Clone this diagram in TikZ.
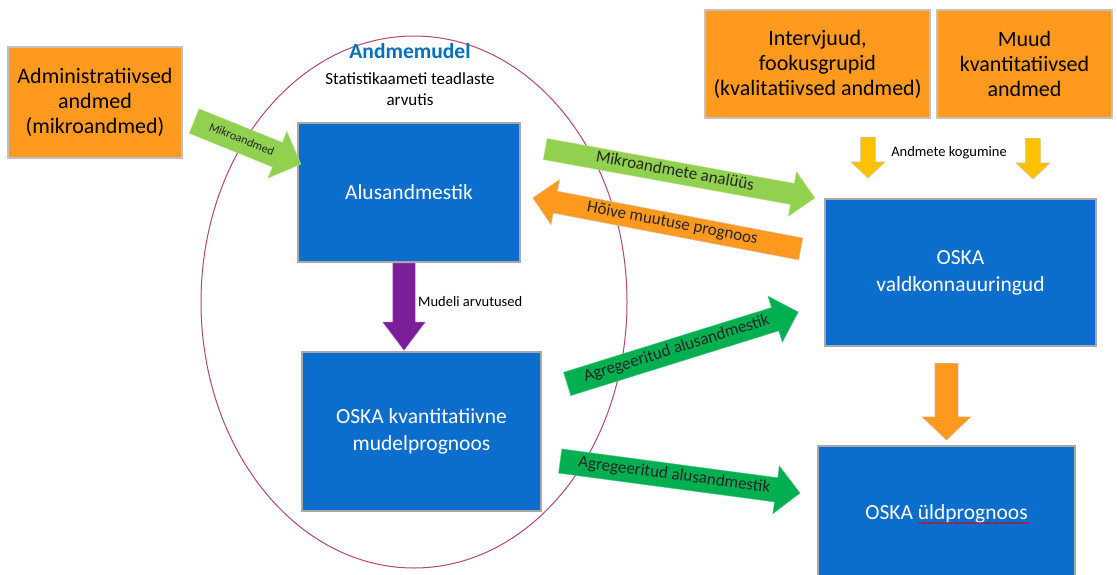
\documentclass[tikz,border=0pt]{standalone}
\usepackage{fontspec}
\setmainfont{Carlito}
\usetikzlibrary{shapes.arrows,decorations.pathmorphing}
\definecolor{boxblue}{HTML}{0B6ECD}
\definecolor{boxedge}{HTML}{A8A8A8}
\definecolor{boxorange}{HTML}{FF9A1F}
\definecolor{lgreen}{HTML}{92D050}
\definecolor{dgreen}{HTML}{00B050}
\definecolor{purp}{HTML}{7A1E9A}
\definecolor{yel}{HTML}{FFC000}
\definecolor{ellcol}{HTML}{B4476E}
\definecolor{titleblue}{HTML}{0070C0}
\tikzset{
  bluebox/.style={rectangle, fill=boxblue, draw=boxedge, line width=1.2pt, text=white, align=center, inner sep=0pt, font=\fontsize{21.5}{27}\selectfont},
  orangebox/.style={rectangle, fill=boxorange, draw=boxedge!70!white, line width=1.2pt, text=black, align=center, inner sep=0pt, font=\fontsize{22}{25}\selectfont},
  fat/.style={single arrow, single arrow tip angle=90, inner xsep=3pt, text height=10pt, text depth=3pt, text=black!85, font=\fontsize{17}{18}\selectfont, anchor=tail},
  plainarrow/.style={single arrow, inner xsep=0pt, text height=0pt, text depth=0pt, anchor=tail},
  lbl/.style={text=black, inner sep=0pt}
}
\begin{document}
\begin{tikzpicture}[x=1pt,y=-1pt]
\useasboundingbox[fill=white] (0,0) rectangle (1117,574);

% ellipse
\draw[ellcol, line width=1pt] (414,302) ellipse [x radius=213, y radius=266];

% title texts
\node[lbl, text=titleblue, font=\fontsize{21.5}{24}\bfseries] (title) at (410,51) {Andmemudel};
\node[lbl, align=center, font=\fontsize{17}{21.5}\selectfont] (sub) at (410,89) {Statistikaameti teadlaste\\arvutis};

% boxes
\node[orangebox, minimum width=174pt, minimum height=111pt] (adm) at (95,102.5) {Administratiivsed\\andmed\\(mikroandmed)};
\node[orangebox, minimum width=225pt, minimum height=108pt] (int) at (817.5,64) {Intervjuud,\\fookusgrupid\\(kvalitatiivsed andmed)};
\node[orangebox, minimum width=175pt, minimum height=108pt] (muud) at (1024.5,64) {Muud\\kvantitatiivsed\\andmed};

\node[bluebox, minimum width=222pt, minimum height=139pt] (alus) at (409,192.5) {Alusandmestik};
\node[bluebox, minimum width=239pt, minimum height=159pt] (kvant) at (421.5,431.5) {OSKA kvantitatiivne\\mudelprognoos};
\node[bluebox, minimum width=271pt, minimum height=147pt] (vald) at (960.5,272.5) {OSKA\\valdkonnauuringud};
\node[bluebox, minimum width=257pt, minimum height=136pt] (yld) at (946.5,514) {OSKA üldprognoos};
\draw[red!85!black, line width=0.6pt, decorate, decoration={snake, amplitude=0.7pt, segment length=2.6pt}]
  ([xshift=-28pt,yshift=-9pt]yld.center) -- ([xshift=83pt,yshift=-9pt]yld.center);

% fat arrows
\node[fat, fill=lgreen, draw=lgreen!70!white, inner ysep=8pt, text height=8pt, text depth=2pt,
      single arrow head extend=12pt, minimum height=115pt, rotate=-22,
      font=\fontsize{12}{13}\selectfont] (amikro) at (194,121) {Mikroandmed};
\node[fat, fill=lgreen, draw=lgreen!70!white, inner ysep=4pt, single arrow head extend=12pt,
      minimum height=274pt, rotate=-10.3] (aanal) at (545,149) {Mikroandmete analüüs};
\node[fat, fill=boxorange, draw=boxedge!60!white, inner ysep=4.5pt, single arrow head extend=12pt,
      minimum height=273pt, rotate=-10.8, shape border rotate=180] (ahoive) at (801,249) {Hõive muutuse prognoos};
\node[fat, fill=dgreen, draw=dgreen!70!white, inner ysep=5.5pt, single arrow head extend=12pt,
      minimum height=242pt, rotate=17.3] (aagr1) at (567,384) {Agregeeritud alusandmestik};
\node[fat, fill=dgreen, draw=dgreen!70!white, inner ysep=5.5pt, single arrow head extend=12pt,
      minimum height=242pt, rotate=-7.6] (aagr2) at (560,461) {Agregeeritud alusandmestik};

% purple arrow
\node[plainarrow, fill=purp, draw=purp!70!white, inner ysep=11pt, single arrow head extend=10pt,
      single arrow tip angle=74, minimum height=87pt, rotate=-90] (apurp) at (404,263) {};
\node[lbl, anchor=west, font=\fontsize{14.5}{16}\selectfont] (mud) at (418,302) {Mudeli arvutused};

% yellow arrows
\node[plainarrow, fill=yel, draw=boxedge!60!white, inner ysep=7.5pt, single arrow head extend=9.5pt,
      single arrow tip angle=93, minimum height=41pt, rotate=-90] (ay1) at (868,137) {};
\node[plainarrow, fill=yel, draw=boxedge!60!white, inner ysep=7.5pt, single arrow head extend=9.5pt,
      single arrow tip angle=93, minimum height=41pt, rotate=-90] (ay2) at (1033,138) {};
\node[lbl, font=\fontsize{14.5}{16}\selectfont] (kog) at (949,153) {Andmete kogumine};

% orange down arrow
\node[plainarrow, fill=boxorange, draw=boxedge!60!white, inner ysep=11.5pt, single arrow head extend=13pt,
      single arrow tip angle=93, minimum height=77pt, rotate=-90] (aor) at (946.5,363) {};
\end{tikzpicture}
\end{document}
